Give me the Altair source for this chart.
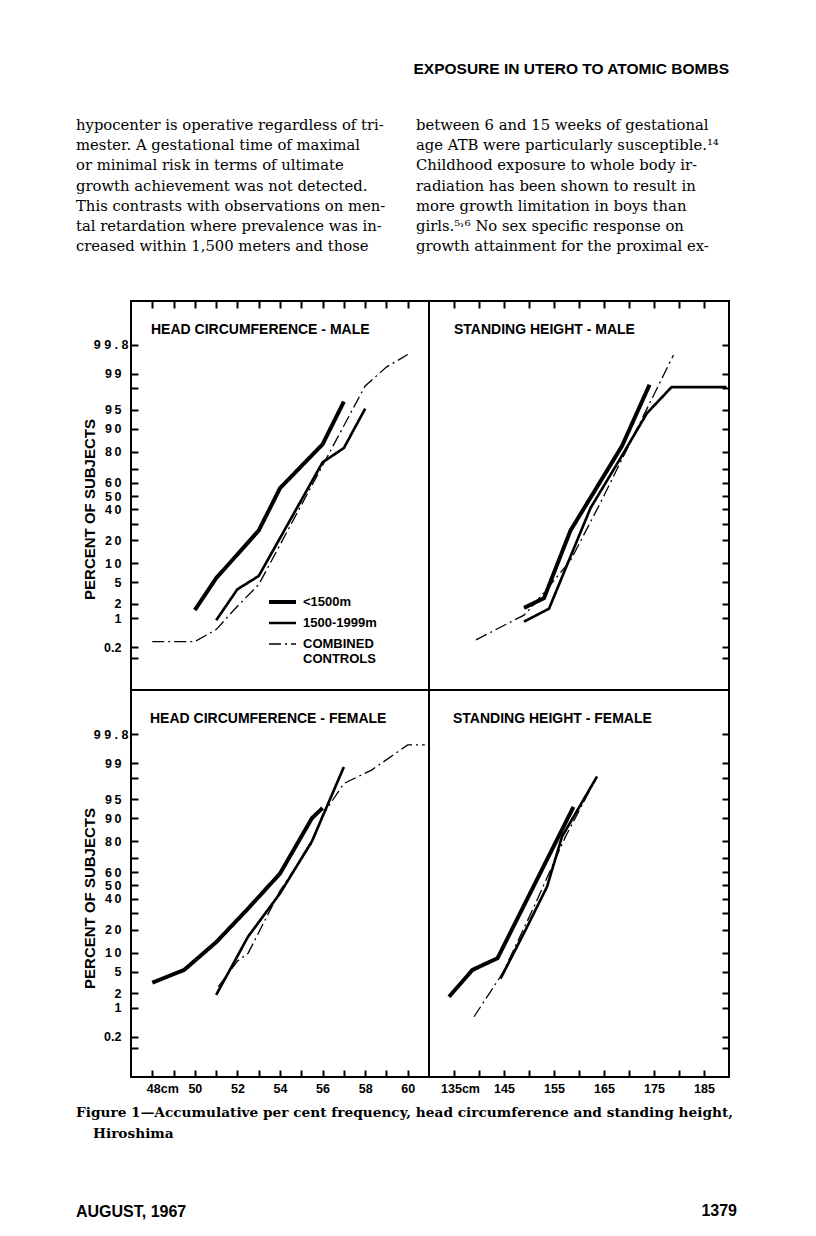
import json
from statistics import NormalDist

import altair as alt
import pandas as pd

# ---------------- data ----------------
SERIES = ["<1500m", "1500-1999m", "COMBINED CONTROLS"]

# Head circumference - male (cm, cumulative %)
HM_NEAR_CM = [50, 51, 53, 54, 56, 57]
HM_NEAR_PCT = [1.5, 5.9, 25.6, 56, 83.8, 96.4]
HM_MID_CM = [51, 52, 53, 56, 57, 58]
HM_MID_PCT = [0.9, 3.8, 6.4, 74, 82, 95.2]
HM_CTRL_CM = [48, 50, 51, 52, 53, 56, 58, 59, 60]
HM_CTRL_PCT = [0.28, 0.28, 0.55, 1.8, 4.6, 72, 98.2, 99.3, 99.65]

# Standing height - male
SM_NEAR_CM = [149, 153, 158.3, 168.6, 174.1]
SM_NEAR_PCT = [1.66, 2.6, 25.6, 83, 98.3]
SM_MID_CM = [149, 154, 162.3, 168.2, 173.6, 178.5, 189.5]
SM_MID_PCT = [0.84, 1.6, 41, 76, 94.3, 98.1, 98.1]
SM_CTRL_CM = [139.4, 149, 150.5, 158.3, 164.3, 178.9]
SM_CTRL_PCT = [0.31, 1.17, 1.7, 11, 45, 99.64]

# Head circumference - female
HF_NEAR_CM = [48, 49.5, 51, 52.5, 54, 55.5, 56]
HF_NEAR_PCT = [3.2, 5.4, 14, 33, 59, 90, 93]
HF_MID_CM = [51, 52.5, 54, 55.5, 57]
HF_MID_PCT = [1.85, 16.5, 44, 80, 98.8]
HF_CTRL_CM = [51.1, 52, 52.5, 54, 55.5, 56, 57, 58.3, 60, 60.8]
HF_CTRL_PCT = [2.7, 7.5, 9.8, 46, 79, 91, 97.4, 98.6, 99.63, 99.63]

# Standing height - female
SF_NEAR_CM = [134, 138.7, 143.7, 158.9]
SF_NEAR_PCT = [1.7, 5.4, 8.3, 93.3]
SF_MID_CM = [144.3, 149.3, 153.6, 156.6, 163.6]
SF_MID_PCT = [3.8, 19.8, 49, 82.4, 98.1]
SF_CTRL_CM = [139, 144.7, 150.7, 157.3, 163.6]
SF_CTRL_PCT = [0.62, 4.7, 32, 82.4, 98.1]

# axis ticks
Y_TICK_PCT = [0.1, 0.2, 1, 2, 5, 10, 20, 30, 40, 50, 60, 70, 80, 90, 95, 98, 99, 99.8]
Y_LABELS_SHOWN = ["99.8", "99", "95", "90", "80", "60", "50", "40", "20", "10", "5", "2", "1", "0.2"]
Y_LABELS_TEXT = ["9 9 . 8", "9\u20099", "9\u20095", "9\u20090", "8\u20090", "6\u20090", "5\u20090",
                 "4\u20090", "2\u20090", "1\u20090", "5", "2", "1", "0.2"]
HEAD_TICKS = list(range(48, 61))
HEIGHT_TICKS = list(range(135, 190, 5))

PANEL_TITLES = ["HEAD CIRCUMFERENCE - MALE", "STANDING HEIGHT  -  MALE",
                "HEAD CIRCUMFERENCE - FEMALE", "STANDING HEIGHT  -  FEMALE"]
Y_TITLE = "PERCENT OF SUBJECTS"

HEADER = "EXPOSURE IN UTERO TO ATOMIC BOMBS"
LEFT_COL = [
    "hypocenter is operative regardless of tri-",
    "mester. A gestational time of maximal",
    "or minimal risk in terms of ultimate",
    "growth achievement was not detected.",
    "This contrasts with observations on men-",
    "tal retardation where prevalence was in-",
    "creased within 1,500 meters and those",
]
RIGHT_COL = [
    "between 6 and 15 weeks of gestational",
    "age ATB were particularly susceptible.\u00b9\u2074",
    "\u2003Childhood exposure to whole body ir-",
    "radiation has been shown to result in",
    "more growth limitation in boys than",
    "girls.\u2075\u02d2\u2076 No sex specific response on",
    "growth attainment for the proximal ex-",
]
CAPTION_1 = "Figure 1\u2014Accumulative per cent frequency, head circumference and standing height,"
CAPTION_2 = "Hiroshima"
FOOT_LEFT = "AUGUST, 1967"
FOOT_RIGHT = "1379"

# ---------------- helpers ----------------
SANS = "Liberation Sans"
SERIF = "DejaVu Serif"
ND = NormalDist()
Y_TICK_Z = [ND.inv_cdf(p / 100) for p in Y_TICK_PCT]
_fmt = "format(cumulativeNormal(datum.value) * 100, '.1~f')"
Y_LABEL_EXPR = "indexof({s}, {f}) >= 0 ? {t}[indexof({s}, {f})] : ''".format(
    s=json.dumps(Y_LABELS_SHOWN).replace('"', "'"),
    t=json.dumps(Y_LABELS_TEXT, ensure_ascii=False).replace('"', "'"),
    f=_fmt,
)
ONE = pd.DataFrame({"k": [0]})


def text_layer(text, x, y, size, weight="normal", font=SERIF, align="left",
               baseline="middle", line_height=None):
    kw = dict(align=align, baseline=baseline, font=font, fontSize=size,
              fontWeight=weight, color="black")
    if line_height is not None:
        kw["lineHeight"] = line_height
    return alt.Chart(ONE).mark_text(**kw).encode(
        x=alt.value(x), y=alt.value(y), text=alt.value(text))


def frame_df(sets):
    rows = []
    for name, xs, ps in sets:
        for a, b in zip(xs, ps):
            rows.append({"series": name, "x": a, "p": b})
    return pd.DataFrame(rows)


def panel(sets, xdom, xticks, ydom, width, height, top_row, left_col, title,
          title_x, legend, extras, xlabel_expr=None, first_tick=None, first_off=0):
    df = frame_df(sets)
    if top_row:
        xaxis = alt.Axis(orient="top", values=xticks, offset=-7, tickSize=7, tickWidth=2,
                         tickColor="black", domain=False, grid=False, labels=False)
    else:
        xaxis = alt.Axis(orient="bottom", values=xticks, offset=-7, tickSize=7, tickWidth=2,
                         tickColor="black", domain=False, grid=False,
                         labelExpr=xlabel_expr, labelFont=SANS, labelFontWeight="bold",
                         labelFontSize=12.5, labelColor="black", labelPadding=5,
                         labelOverlap=False, labelFlush=False,
                         labelOffset={"condition": {"test": "datum.value == %s" % first_tick,
                                                    "value": first_off}, "value": 0})
    if left_col:
        yaxis = alt.Axis(orient="left", values=Y_TICK_Z, offset=-7, tickSize=7, tickWidth=2,
                         tickColor="black", domain=False, grid=False,
                         labelExpr=Y_LABEL_EXPR, labelFont=SANS, labelFontWeight="bold",
                         labelFontSize=12.5, labelColor="black",
                         labelPadding={"condition": {"test": "datum.value > 2.8", "value": 3},
                                       "value": 10},
                         labelOverlap=False, labelFlush=False,
                         titleFont=SANS, titleFontSize=15, titleFontWeight="bold",
                         titleColor="black", titleAngle=270, titleX=-49, titleY=208,
                         titleBaseline="middle", titleAlign="center")
        ytitle = Y_TITLE
    else:
        yaxis = alt.Axis(orient="right", values=Y_TICK_Z, offset=-7, tickSize=7, tickWidth=2,
                         tickColor="black", domain=False, grid=False, labels=False)
        ytitle = None

    if legend:
        leg = alt.Legend(orient="none", legendX=136, legendY=294, title=None,
                         symbolType="stroke", symbolSize=729, symbolStrokeColor="black",
                         labelFont=SANS, labelFontWeight="bold", labelFontSize=13,
                         labelColor="black", labelOffset=5, clipHeight=14, rowPadding=7,
                         padding=0,
                         labelExpr="datum.label == 'COMBINED CONTROLS' ? ['COMBINED', 'CONTROLS'] : datum.label")
    else:
        leg = None

    lines = alt.Chart(df).transform_calculate(
        z="quantileNormal(datum.p / 100)"
    ).mark_line(color="black", strokeCap="butt").encode(
        x=alt.X("x:Q", scale=alt.Scale(domain=xdom, nice=False, zero=False), axis=xaxis, title=None),
        y=alt.Y("z:Q", scale=alt.Scale(domain=ydom, nice=False, zero=False), axis=yaxis, title=ytitle),
        strokeWidth=alt.StrokeWidth("series:N", scale=alt.Scale(domain=SERIES, range=[4, 1.3, 1.3]),
                                    legend=leg),
        strokeDash=alt.StrokeDash("series:N",
                                  scale=alt.Scale(domain=SERIES, range=[[1, 0], [1, 0], [12, 4, 2, 4]]),
                                  legend=leg),
    )
    ttl = text_layer(title, title_x, 29, 14, weight="bold", font=SANS)
    return alt.layer(lines, ttl, *extras).properties(width=width, height=height)


# page texts, positioned relative to the top-left panel's origin (page x=130, y=300)
anchor = alt.Chart(ONE).mark_rect(color="white").encode(
    x=alt.value(-122), x2=alt.value(-121), y=alt.value(-292), y2=alt.value(-291))
page_texts = [
    anchor,
    text_layer(HEADER, 598, -232, 15.5, weight="bold", font=SANS, align="right"),
    text_layer(LEFT_COL, -55, -171, 14.8, baseline="alphabetic", line_height=20.2),
    text_layer(RIGHT_COL, 285, -171, 14.8, baseline="alphabetic", line_height=20.2),
    text_layer(CAPTION_1, -55, 812, 13.7, weight="bold"),
    text_layer(CAPTION_2, -38, 833, 13.7, weight="bold"),
    text_layer(FOOT_LEFT, -55, 911, 16, weight="bold", font=SANS),
    text_layer(FOOT_RIGHT, 606, 910, 16, weight="bold", font=SANS, align="right"),
]

TOP_Y = [-3.693, 3.716]
BOT_Y = [-3.648, 3.724]
HEAD_X = [47, 61]
HEIGHT_X = [130, 190]

pA = panel([(SERIES[0], HM_NEAR_CM, HM_NEAR_PCT), (SERIES[1], HM_MID_CM, HM_MID_PCT),
            (SERIES[2], HM_CTRL_CM, HM_CTRL_PCT)],
           HEAD_X, HEAD_TICKS, TOP_Y, 298, 389, True, True, PANEL_TITLES[0], 20, True, page_texts)
pB = panel([(SERIES[0], SM_NEAR_CM, SM_NEAR_PCT), (SERIES[1], SM_MID_CM, SM_MID_PCT),
            (SERIES[2], SM_CTRL_CM, SM_CTRL_PCT)],
           HEIGHT_X, HEIGHT_TICKS, TOP_Y, 300, 389, True, False, PANEL_TITLES[1], 25, False, [])
pC = panel([(SERIES[0], HF_NEAR_CM, HF_NEAR_PCT), (SERIES[1], HF_MID_CM, HF_MID_PCT),
            (SERIES[2], HF_CTRL_CM, HF_CTRL_PCT)],
           HEAD_X, HEAD_TICKS, BOT_Y, 298, 387, False, True, PANEL_TITLES[2], 19, False, [],
           xlabel_expr="datum.value == 48 ? '48cm' : (datum.value % 2 == 0 ? datum.label : '')",
           first_tick=48, first_off=10)
pD = panel([(SERIES[0], SF_NEAR_CM, SF_NEAR_PCT), (SERIES[1], SF_MID_CM, SF_MID_PCT),
            (SERIES[2], SF_CTRL_CM, SF_CTRL_PCT)],
           HEIGHT_X, HEIGHT_TICKS, BOT_Y, 300, 387, False, False, PANEL_TITLES[3], 24, False, [],
           xlabel_expr="datum.value == 135 ? '135cm' : ((datum.value - 135) % 10 == 0 ? datum.label : '')",
           first_tick=135, first_off=6)

RES = dict(x="independent", y="independent", strokeWidth="independent", strokeDash="independent")
chart = (
    alt.concat(pA, pB, pC, pD, columns=2, spacing=0, bounds="flush")
    .resolve_scale(**RES)
    .configure_view(stroke="black", strokeWidth=2)
    .properties(padding=0, background="white")
)

chart.save("out.html", embed_options={"renderer": "svg", "actions": False})
